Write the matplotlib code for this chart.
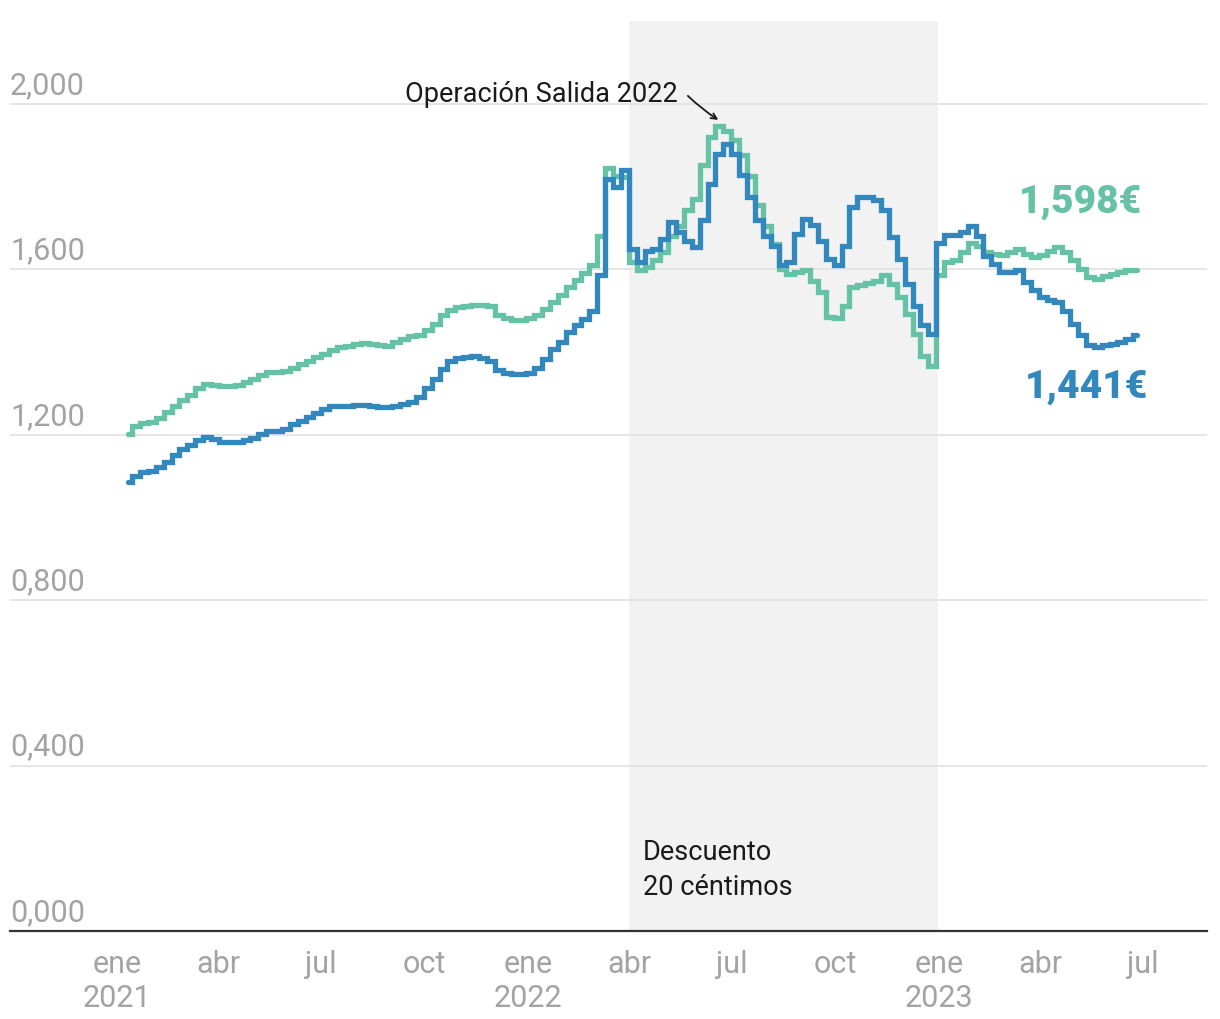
import matplotlib
matplotlib.use("Agg")
import matplotlib.pyplot as plt
import matplotlib.transforms as mtransforms
import pandas as pd

plt.rcParams['font.family'] = ['Roboto', 'DejaVu Sans']

# Weekly prices (€/l), Mondays from 2021-01-11 to 2023-06-26
start_date = '2021-01-11'
gasolina = [
    1.202, 1.220, 1.227, 1.230, 1.240, 1.255, 1.270, 1.283, 1.295, 1.313,
    1.322, 1.320, 1.318, 1.317, 1.320, 1.328, 1.334, 1.344, 1.352, 1.352,
    1.354, 1.362, 1.370, 1.378, 1.387, 1.395, 1.405, 1.411, 1.414, 1.419,
    1.421, 1.419, 1.416, 1.415, 1.424, 1.432, 1.438, 1.441, 1.452, 1.468,
    1.490, 1.502, 1.508, 1.512, 1.514, 1.514, 1.510, 1.490, 1.481, 1.478,
    1.478, 1.483, 1.490, 1.503, 1.521, 1.537, 1.557, 1.575, 1.591, 1.609,
    1.681, 1.845, 1.825, 1.822, 1.618, 1.597, 1.605, 1.621, 1.642, 1.681,
    1.705, 1.742, 1.770, 1.851, 1.920, 1.945, 1.933, 1.912, 1.875, 1.826,
    1.754, 1.705, 1.661, 1.601, 1.589, 1.592, 1.597, 1.572, 1.545, 1.484,
    1.482, 1.512, 1.556, 1.562, 1.566, 1.572, 1.585, 1.565, 1.533, 1.492,
    1.444, 1.391, 1.366, 1.585, 1.617, 1.621, 1.641, 1.664, 1.657, 1.641,
    1.637, 1.635, 1.641, 1.648, 1.637, 1.629, 1.635, 1.643, 1.653, 1.641,
    1.621, 1.601, 1.581, 1.577, 1.583, 1.589, 1.594, 1.599, 1.598,
]
diesel = [
    1.085, 1.101, 1.109, 1.113, 1.121, 1.133, 1.150, 1.166, 1.175, 1.186,
    1.194, 1.190, 1.183, 1.182, 1.182, 1.186, 1.191, 1.202, 1.208, 1.210,
    1.214, 1.226, 1.234, 1.242, 1.253, 1.262, 1.269, 1.269, 1.270, 1.272,
    1.272, 1.269, 1.266, 1.267, 1.270, 1.274, 1.280, 1.290, 1.312, 1.335,
    1.359, 1.379, 1.385, 1.387, 1.389, 1.385, 1.379, 1.357, 1.349, 1.347,
    1.347, 1.349, 1.362, 1.383, 1.407, 1.424, 1.448, 1.466, 1.480, 1.498,
    1.585, 1.819, 1.798, 1.839, 1.649, 1.618, 1.645, 1.649, 1.673, 1.714,
    1.690, 1.669, 1.654, 1.718, 1.806, 1.879, 1.903, 1.879, 1.827, 1.775,
    1.718, 1.681, 1.657, 1.609, 1.617, 1.686, 1.722, 1.707, 1.669, 1.625,
    1.611, 1.657, 1.750, 1.774, 1.774, 1.768, 1.742, 1.677, 1.625, 1.565,
    1.512, 1.464, 1.444, 1.663, 1.683, 1.682, 1.691, 1.705, 1.680, 1.632,
    1.613, 1.593, 1.593, 1.597, 1.569, 1.549, 1.533, 1.526, 1.520, 1.500,
    1.468, 1.440, 1.416, 1.412, 1.416, 1.420, 1.425, 1.432, 1.441,
]
dates = pd.date_range(start_date, periods=len(gasolina), freq='7D')

y_ticks = [0.0, 0.4, 0.8, 1.2, 1.6, 2.0]
x_tick_dates = ['2021-01-01', '2021-04-01', '2021-07-01', '2021-10-01',
                '2022-01-01', '2022-04-01', '2022-07-01', '2022-10-01',
                '2023-01-01', '2023-04-01', '2023-07-01']
x_tick_labels = ['ene\n2021', 'abr', 'jul', 'oct', 'ene\n2022', 'abr', 'jul',
                 'oct', 'ene\n2023', 'abr', 'jul']
discount_start, discount_end = '2022-04-01', '2022-12-31'

GREEN = '#66c2a5'
BLUE = '#3288bd'
GRAY = '#a3a3a3'
INK = '#1a1a1a'

fig = plt.figure(figsize=(12.2, 10.2), dpi=100)
ax = fig.add_axes([10 / 1220, 88 / 1020, 1197 / 1220, 910 / 1020])

ax.set_xlim(pd.Timestamp('2020-09-28'), pd.Timestamp('2023-08-27'))
ax.set_ylim(0, 2.2)

ax.axvspan(pd.Timestamp(discount_start), pd.Timestamp(discount_end),
           color='#f2f2f2', zorder=0, lw=0)

for v in y_ticks[1:]:
    ax.axhline(v, color='#e3e3e3', lw=1.3, zorder=1)

ax.step(dates, gasolina, where='mid', color=GREEN, lw=3.8, zorder=3,
        solid_capstyle='round', solid_joinstyle='miter')
ax.step(dates, diesel, where='mid', color=BLUE, lw=3.8, zorder=4,
        solid_capstyle='round', solid_joinstyle='miter')

for s in ['top', 'right', 'left']:
    ax.spines[s].set_visible(False)
ax.spines['bottom'].set_color('#333333')
ax.spines['bottom'].set_linewidth(1.6)
ax.spines['bottom'].set_zorder(5)

ax.set_yticks([])
trans = mtransforms.blended_transform_factory(ax.transAxes, ax.transData)
offset = mtransforms.offset_copy(trans, fig=fig, x=0, y=5, units='dots')
for v in y_ticks:
    ax.text(0, v, f"{v:.3f}".replace('.', ','), transform=offset,
            ha='left', va='bottom', fontsize=22, color=GRAY)

ax.set_xticks([pd.Timestamp(d) for d in x_tick_dates])
ax.set_xticklabels(x_tick_labels, fontsize=22, color=GRAY, linespacing=1.2)
ax.tick_params(axis='x', length=0, pad=13)

# End labels
ax.text(pd.Timestamp('2023-06-30'), 1.765, '1,598€', ha='right', va='center',
        fontsize=28, fontweight='heavy', color=GREEN)
ax.text(pd.Timestamp('2023-07-06'), 1.316, '1,441€', ha='right', va='center',
        fontsize=28, fontweight='heavy', color=BLUE)

# Annotations
ax.text(pd.Timestamp('2022-05-14'), 2.024, 'Operación Salida 2022',
        ha='right', va='center', fontsize=19.5, color=INK)
ax.annotate('', xy=(pd.Timestamp('2022-06-19'), 1.961),
            xytext=(pd.Timestamp('2022-05-23'), 2.019),
            arrowprops=dict(arrowstyle='->', color=INK, lw=1.3,
                            shrinkA=0, shrinkB=0,
                            connectionstyle='arc3,rad=0.05'))

ax.text(pd.Timestamp('2022-04-13'), 0.150, 'Descuento\n20 céntimos',
        ha='left', va='center', fontsize=19.5, color=INK, linespacing=1.35)

fig.savefig('out.png', dpi=100)
